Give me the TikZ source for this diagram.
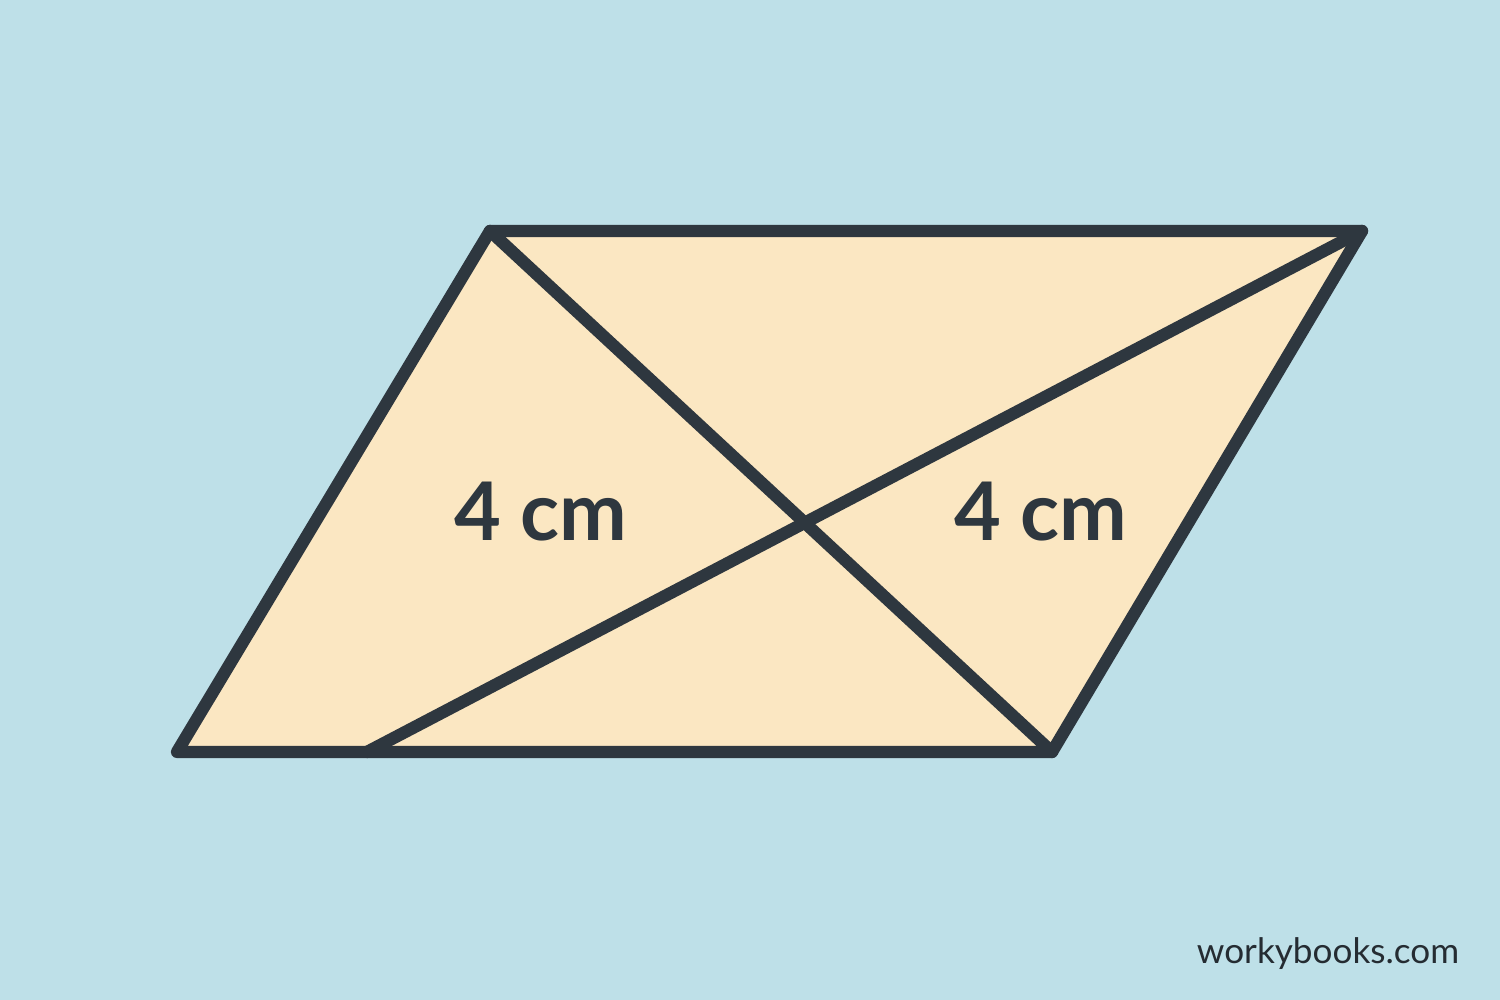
\documentclass[tikz,border=0pt]{standalone}
\usepackage{fontspec}
\setmainfont{Lato}
\usepackage{tikz}
\usepackage{xcolor}
\usetikzlibrary{positioning, calc}

\definecolor{bgblue}{HTML}{BEE0E8}
\definecolor{shapefill}{HTML}{FBE7C2}
\definecolor{edgegray}{HTML}{2E373F}

\tikzset{
  edge/.style={draw=edgegray, line width=3.5pt, line cap=round, line join=round},
  sidelabel/.style={font=\bfseries\fontsize{23}{27}\selectfont, text=edgegray},
  markname/.style={font=\fontsize{10}{12}\selectfont, text=edgegray!80!black}
}

\begin{document}
\begin{tikzpicture}
% Background
\fill[bgblue] (0,0) rectangle (15,10);
\useasboundingbox (0,0) rectangle (15,10);

% Corners of the parallelogram
\coordinate (tl) at (4.90,7.69);
\coordinate (tr) at (13.62,7.69);
\coordinate (br) at (10.52,2.48);
\coordinate (bl) at (1.77,2.48);
\coordinate (bm) at (3.67,2.48);

% Parallelogram
\fill[shapefill] (tl) -- (tr) -- (br) -- (bl) -- cycle;

% Diagonals
\draw[edge] (tl) -- (br);
\draw[edge] (tr) -- (bm);

% Outline
\draw[edge] (tl) -- (tr) -- (br) -- (bl) -- cycle;

% Labels
\node[sidelabel] (lenleft) at (5.41,4.88) {4 cm};
\node[sidelabel] (lenright) at (10.41,4.88) {4 cm};

% Site name
\node[markname] (site) at (13.28,0.46) {workybooks.com};
\end{tikzpicture}
\end{document}
